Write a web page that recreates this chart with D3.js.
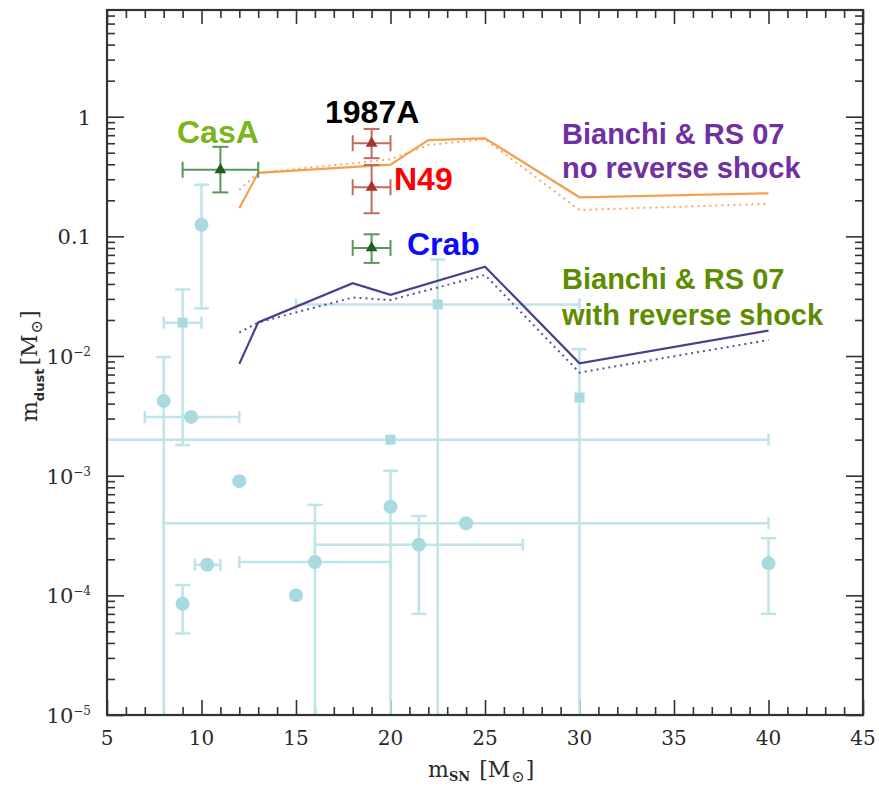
<!DOCTYPE html>
<html>
<head>
<meta charset="utf-8">
<script src="https://cdn.jsdelivr.net/npm/d3@7"></script>
<style>
  body { margin: 0; background: #fff; }
</style>
</head>
<body>
<svg id="chart"></svg>
<script>
// ---- data ----
// light blue observations (circles), m = SN mass, d = dust mass
var obsCircles = [
  { m: 10,   d: 0.125,  y: [0.025, 0.27] },
  { m: 8,    d: 0.0042, y: [1e-6, 0.0098] },
  { m: 9.45, d: 0.0031, x: [7, 12] },
  { m: 12,   d: 9e-4 },
  { m: 10.3, d: 1.8e-4, x: [9.65, 11] },
  { m: 9,    d: 8.5e-5, y: [4.8e-5, 1.22e-4] },
  { m: 15,   d: 1.0e-4 },
  { m: 16,   d: 1.9e-4, x: [12, 20], y: [1e-6, 5.7e-4] },
  { m: 20,   d: 5.5e-4, y: [1e-6, 1.1e-3] },
  { m: 21.5, d: 2.65e-4, x: [16, 27], y: [7e-5, 4.6e-4] },
  { m: 24,   d: 4e-4,   x: [8, 40] },
  { m: 40,   d: 1.85e-4, y: [7e-5, 3e-4] }
];
// light blue observations (squares)
var obsSquares = [
  { m: 9,    d: 0.019,  x: [8, 10],  y: [0.0018, 0.036] },
  { m: 22.5, d: 0.027,  x: [15, 30], y: [1e-6, 0.064] },
  { m: 30,   d: 0.0045, y: [1e-6, 0.0114] },
  { m: 20,   d: 0.002,  x: [3, 40] }
];
// named remnants (triangles)
var remnants = [
  { name: 'CasA',  m: 11, d: 0.36,  x: [9, 13],  y: [0.233, 0.56], c: 'green' },
  { name: '1987A', m: 19, d: 0.60,  x: [18, 20], y: [0.45, 0.79],  c: 'red' },
  { name: 'N49',   m: 19, d: 0.257, x: [18, 20], y: [0.156, 0.395], c: 'red' },
  { name: 'Crab',  m: 19, d: 0.08,  x: [18, 20], y: [0.06, 0.104],  c: 'green' }
];
// Bianchi & Schneider 07 models
var noRsMass   = [12, 13, 20, 22, 25, 30, 40];
var noRsSolid  = [0.172, 0.339, 0.398, 0.638, 0.66, 0.212, 0.229];
var noRsDotted = [0.244, 0.339, 0.44, 0.58, 0.65, 0.166, 0.187];
var rsMass     = [12, 13, 18, 20, 25, 30, 40];
var rsSolid    = [0.0086, 0.0191, 0.0406, 0.0324, 0.0558, 0.0087, 0.0163];
var rsDotted   = [0.0157, 0.0191, 0.0308, 0.0294, 0.0476, 0.00727, 0.0136];

var xMajor = [5, 10, 15, 20, 25, 30, 35, 40, 45];
var yMajor = [1, 0.1, 1e-2, 1e-3, 1e-4, 1e-5];
var yLabels = [['1', ''], ['0.1', ''], ['10', '\u22122'], ['10', '\u22123'], ['10', '\u22124'], ['10', '\u22125']];

// ---- layout ----
var W = 879, H = 787,
	pLeft = 107, pRight = 863, pTop = 10, pBottom = 715;

var svg = d3.select('#chart').attr('width', W).attr('height', H);

var x = d3.scaleLinear().domain([5, 45]).range([pLeft, pRight]);
var y = d3.scaleLog().domain([1e-5, 7.79]).range([pBottom, pTop]);

var xMinor = d3.range(5, 46, 1).filter(function (v) { return v % 5 !== 0; });
var yMinor = [];
yMajor.forEach(function (dec) {
	for (var k = 2; k <= 9; k++) {
		if (dec * k <= y.domain()[1]) { yMinor.push(dec * k); }
	}
});

function tickAxis(axis, transform) {
	svg.append('g')
		.attr('transform', transform)
		.call(axis)
		.call(function (g) { g.select('.domain').remove(); })
		.call(function (g) {
			g.selectAll('line').attr('stroke', '#333').attr('stroke-width', 1.6);
		});
}

tickAxis(d3.axisBottom(x).tickValues(xMajor).tickSize(-15).tickFormat(''), 'translate(0,' + pBottom + ')');
tickAxis(d3.axisBottom(x).tickValues(xMinor).tickSize(-8).tickFormat(''), 'translate(0,' + pBottom + ')');
tickAxis(d3.axisTop(x).tickValues(xMajor).tickSize(-14).tickFormat(''), 'translate(0,' + pTop + ')');
tickAxis(d3.axisTop(x).tickValues(xMinor).tickSize(-8).tickFormat(''), 'translate(0,' + pTop + ')');
tickAxis(d3.axisLeft(y).tickValues(yMajor).tickSize(-17).tickFormat(''), 'translate(' + pLeft + ',0)');
tickAxis(d3.axisLeft(y).tickValues(yMinor).tickSize(-8).tickFormat(''), 'translate(' + pLeft + ',0)');
tickAxis(d3.axisRight(y).tickValues(yMajor).tickSize(-17).tickFormat(''), 'translate(' + pRight + ',0)');
tickAxis(d3.axisRight(y).tickValues(yMinor).tickSize(-8).tickFormat(''), 'translate(' + pRight + ',0)');

// tick labels
svg.append('g').selectAll('text')
	.data(xMajor)
	.enter()
	.append('text')
	.attr('x', function (d) { return x(d); })
	.attr('y', 745)
	.attr('text-anchor', 'middle')
	.attr('font-family', 'DejaVu Serif')
	.attr('font-size', 20)
	.attr('fill', '#2a2a2a')
	.text(function (d) { return d; });

svg.append('g').selectAll('text')
	.data(yMajor)
	.enter()
	.append('text')
	.attr('x', 91)
	.attr('y', function (d) { return y(d) + 8; })
	.attr('text-anchor', 'end')
	.attr('font-family', 'DejaVu Serif')
	.attr('font-size', 21)
	.attr('fill', '#2a2a2a')
	.each(function (d, i) {
		var t = d3.select(this);
		t.append('tspan').text(yLabels[i][0]);
		if (yLabels[i][1]) {
			t.append('tspan').attr('font-size', 12).attr('dy', -8).text(yLabels[i][1]);
		}
	});

// axis titles
var xt = svg.append('text')
	.attr('x', 428).attr('y', 777)
	.attr('font-family', 'DejaVu Serif').attr('font-size', 22).attr('fill', '#2a2a2a');
xt.append('tspan').text('m');
xt.append('tspan').attr('font-size', 13).attr('font-weight', 'bold').attr('dy', 4).text('SN');
xt.append('tspan').attr('dy', -4).attr('dx', 9).text('[M');
xt.append('tspan').attr('font-size', 16).attr('dy', 5).attr('dx', 1).text('\u2299');
xt.append('tspan').attr('dy', -5).attr('dx', 1).text(']');

var yt = svg.append('text')
	.attr('transform', 'translate(37,422) rotate(-90)')
	.attr('font-family', 'DejaVu Serif').attr('font-size', 22).attr('fill', '#2a2a2a');
yt.append('tspan').text('m');
yt.append('tspan').attr('font-family', 'DejaVu Sans').attr('font-size', 13).attr('font-weight', 'bold').attr('dy', 7).text('dust');
yt.append('tspan').attr('dy', -7).attr('dx', 3).text('[M');
yt.append('tspan').attr('font-size', 16).attr('dy', 5).attr('dx', 1).text('\u2299');
yt.append('tspan').attr('dy', -5).attr('dx', 1).text(']');

// ---- plot area ----
svg.append('clipPath').attr('id', 'plotclip')
	.append('rect').attr('x', pLeft).attr('y', pTop).attr('width', pRight - pLeft).attr('height', pBottom - pTop);

var plot = svg.append('g').attr('clip-path', 'url(#plotclip)');

function errorBars(g, data, color, width, capX, capY) {
	data.forEach(function (d) {
		var cx = x(d.m), cy = y(d.d);
		if (d.x) {
			g.append('line').attr('x1', x(d.x[0])).attr('x2', x(d.x[1])).attr('y1', cy).attr('y2', cy);
			d.x.forEach(function (v) {
				g.append('line').attr('x1', x(v)).attr('x2', x(v)).attr('y1', cy - capY).attr('y2', cy + capY);
			});
		}
		if (d.y) {
			g.append('line').attr('x1', cx).attr('x2', cx).attr('y1', y(d.y[0])).attr('y2', y(d.y[1]));
			d.y.forEach(function (v) {
				g.append('line').attr('x1', cx - capX).attr('x2', cx + capX).attr('y1', y(v)).attr('y2', y(v));
			});
		}
	});
	g.selectAll('line').attr('stroke', color).attr('stroke-width', width);
}

var blueBars = plot.append('g');
errorBars(blueBars, obsCircles.concat(obsSquares), '#bfe4ea', 2.5, 7.5, 6);

plot.append('g').selectAll('circle')
	.data(obsCircles)
	.enter()
	.append('circle')
	.attr('cx', function (d) { return x(d.m); })
	.attr('cy', function (d) { return y(d.d); })
	.attr('r', 7)
	.attr('fill', '#a8dae0');

plot.append('g').selectAll('rect')
	.data(obsSquares)
	.enter()
	.append('rect')
	.attr('x', function (d) { return x(d.m) - 5; })
	.attr('y', function (d) { return y(d.d) - 5; })
	.attr('width', 10)
	.attr('height', 10)
	.attr('fill', '#a8dae0');

// model lines
function modelLine(ms, vals, color, dash) {
	var line = d3.line()
		.x(function (d, i) { return x(ms[i]); })
		.y(function (d) { return y(d); });
	plot.append('path')
		.attr('d', line(vals))
		.attr('fill', 'none')
		.attr('stroke', color)
		.attr('stroke-width', dash ? 2 : 2.2)
		.attr('stroke-dasharray', dash ? '2,4' : null);
}
modelLine(noRsMass, noRsDotted, '#f6a868', true);
modelLine(noRsMass, noRsSolid, '#f5a050', false);
modelLine(rsMass, rsDotted, '#5a509a', true);
modelLine(rsMass, rsSolid, '#4a3f8c', false);

// remnants
var barColor = { green: '#5a965a', red: '#c46a63' };
var markColor = { green: '#1f5f1f', red: '#a5342c' };
remnants.forEach(function (r) {
	errorBars(plot.append('g'), [r], barColor[r.c], 2, 8, 8);
});
plot.append('g').selectAll('path')
	.data(remnants)
	.enter()
	.append('path')
	.attr('transform', function (d) { return 'translate(' + x(d.m) + ',' + y(d.d) + ')'; })
	.attr('d', d3.symbol().type(d3.symbolTriangle).size(60))
	.attr('fill', function (d) { return markColor[d.c]; });

// frame
svg.append('rect')
	.attr('x', pLeft).attr('y', pTop)
	.attr('width', pRight - pLeft).attr('height', pBottom - pTop)
	.attr('fill', 'none').attr('stroke', '#333').attr('stroke-width', 2.2);

// ---- annotations ----
var notes = [
	{ t: 'CasA',  x: 177, y: 143, c: '#79b51c', s: 32 },
	{ t: '1987A', x: 325, y: 123, c: '#000000', s: 32 },
	{ t: 'N49',   x: 394, y: 190, c: '#ff0000', s: 32 },
	{ t: 'Crab',  x: 407, y: 255, c: '#0a0aff', s: 32 },
	{ t: 'Bianchi & RS 07',    x: 562, y: 144, c: '#7030a0', s: 29 },
	{ t: 'no reverse shock',   x: 562, y: 178, c: '#7030a0', s: 29 },
	{ t: 'Bianchi & RS 07',    x: 562, y: 289, c: '#5e8c00', s: 29 },
	{ t: 'with reverse shock', x: 562, y: 325, c: '#5e8c00', s: 29 }
];
svg.append('g').selectAll('text')
	.data(notes)
	.enter()
	.append('text')
	.attr('x', function (d) { return d.x; })
	.attr('y', function (d) { return d.y; })
	.attr('font-family', 'Liberation Sans, Arial, sans-serif')
	.attr('font-weight', 'bold')
	.attr('font-size', function (d) { return d.s; })
	.attr('fill', function (d) { return d.c; })
	.text(function (d) { return d.t; });
</script>
</body>
</html>
